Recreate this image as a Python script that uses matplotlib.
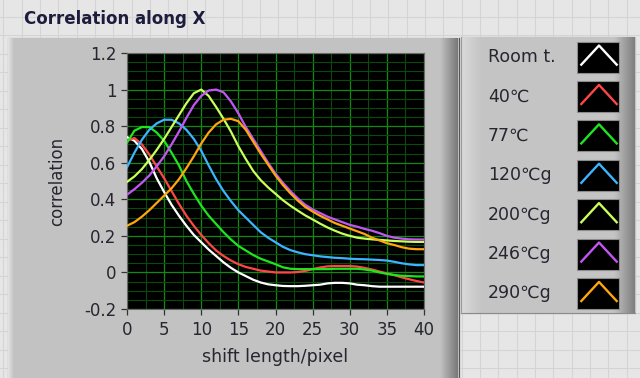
import numpy as np
import matplotlib
matplotlib.use("Agg")
import matplotlib.pyplot as plt
from matplotlib.patches import Rectangle
from matplotlib.colors import LinearSegmentedColormap

W, H = 640, 378

# data (shift 0..40 pixels)
shift = np.arange(0, 41)
labels = ["Room t.", "40℃", "77℃", "120℃g", "200℃g", "246℃g", "290℃g"]
room = [0.74, 0.72, 0.675, 0.605, 0.515, 0.44, 0.37, 0.31, 0.255, 0.205,
        0.165, 0.125, 0.09, 0.055, 0.025, 0.0, -0.02, -0.04, -0.055, -0.065,
        -0.07, -0.074, -0.075, -0.075, -0.073, -0.07, -0.067, -0.06, -0.057, -0.057,
        -0.06, -0.067, -0.07, -0.075, -0.078, -0.078, -0.078, -0.078, -0.078, -0.078,
        -0.078]
c40 = [0.72, 0.735, 0.70, 0.645, 0.58, 0.515, 0.445, 0.375, 0.31, 0.255,
       0.205, 0.16, 0.12, 0.09, 0.065, 0.045, 0.03, 0.02, 0.01, 0.005,
       0.0, 0.0, 0.0, 0.002, 0.008, 0.018, 0.027, 0.033, 0.035, 0.035,
       0.035, 0.032, 0.025, 0.016, 0.005, -0.005, -0.015, -0.027, -0.037, -0.047,
       -0.055]
c77 = [0.71, 0.775, 0.795, 0.795, 0.765, 0.72, 0.655, 0.585, 0.50, 0.43,
       0.365, 0.31, 0.265, 0.22, 0.18, 0.145, 0.12, 0.095, 0.075, 0.06,
       0.045, 0.028, 0.02, 0.018, 0.018, 0.018, 0.018, 0.018, 0.02, 0.02,
       0.02, 0.02, 0.016, 0.01, 0.0, -0.008, -0.014, -0.018, -0.02, -0.022,
       -0.022]
c120 = [0.575, 0.655, 0.725, 0.78, 0.815, 0.835, 0.835, 0.815, 0.78, 0.73,
        0.665, 0.585, 0.51, 0.445, 0.39, 0.34, 0.30, 0.26, 0.22, 0.19,
        0.165, 0.14, 0.122, 0.11, 0.1, 0.094, 0.088, 0.084, 0.08, 0.078,
        0.075, 0.073, 0.072, 0.07, 0.068, 0.065, 0.058, 0.05, 0.044, 0.04,
        0.04]
c200 = [0.495, 0.525, 0.565, 0.615, 0.67, 0.73, 0.795, 0.86, 0.925, 0.98,
        1.0, 0.965, 0.905, 0.84, 0.77, 0.69, 0.62, 0.555, 0.505, 0.465,
        0.43, 0.395, 0.365, 0.338, 0.312, 0.29, 0.267, 0.246, 0.228, 0.212,
        0.2, 0.19, 0.185, 0.181, 0.178, 0.175, 0.172, 0.17, 0.168, 0.167,
        0.167]
c246 = [0.425, 0.455, 0.49, 0.53, 0.58, 0.635, 0.70, 0.77, 0.845, 0.915,
        0.965, 0.995, 1.0, 0.985, 0.935, 0.87, 0.795, 0.73, 0.665, 0.60,
        0.54, 0.49, 0.445, 0.405, 0.37, 0.345, 0.325, 0.305, 0.29, 0.275,
        0.26, 0.25, 0.238, 0.228, 0.215, 0.2, 0.19, 0.185, 0.181, 0.18,
        0.18]
c290 = [0.255, 0.275, 0.305, 0.34, 0.38, 0.42, 0.46, 0.51, 0.57, 0.635,
        0.705, 0.765, 0.81, 0.835, 0.84, 0.827, 0.78, 0.715, 0.65, 0.59,
        0.53, 0.478, 0.433, 0.393, 0.358, 0.333, 0.31, 0.29, 0.27, 0.255,
        0.24, 0.225, 0.21, 0.19, 0.175, 0.16, 0.15, 0.138, 0.13, 0.127,
        0.127]
series = [room, c40, c77, c120, c200, c246, c290]
colors = ["#ffffff", "#ff4646", "#1ee61e", "#3cb4ff", "#c8ff5a", "#c455f5", "#ffa510"]

xticks = np.arange(0, 41, 5)
yticks = np.round(np.arange(-0.2, 1.21, 0.2), 1)
ytick_labels = ["-0.2", "0", "0.2", "0.4", "0.6", "0.8", "1", "1.2"]

FONT = ["DejaVu Sans", "Noto Sans CJK JP"]
TXT = "#262630"

fig = plt.figure(figsize=(W / 100, H / 100), dpi=100)

# front panel background, in pixel coordinates
bg = fig.add_axes([0, 0, 1, 1])
bg.axis("off")
bg.add_patch(Rectangle((0, 0), W, H, color="#e6e6e6", zorder=0))
for gx in np.arange(3.4, W, 18.33):
    bg.plot([gx, gx], [0, H], color="#d4d4d4", lw=0.8, zorder=1)
for gy in np.arange(16.5, H, 18.5):
    bg.plot([0, W], [gy, gy], color="#d4d4d4", lw=0.8, zorder=1)


def hgrad(x0, x1, y0, y1, c0, c1):
    cm = LinearSegmentedColormap.from_list("g", [c0, c1])
    bg.imshow(np.linspace(0, 1, 64)[None, :], extent=(x0, x1, y1, y0),
              cmap=cm, aspect="auto", zorder=3, interpolation="bilinear")


# graph panel
bg.add_patch(Rectangle((8, 38), 451, H - 38, color="#c2c2c2", zorder=2))
hgrad(8, 14, 38, H, "#e4e4e4", "#c2c2c2")
hgrad(440, 458, 38, H, "#c2c2c2", "#787878")
bg.plot([458.5, 458.5], [38, H], color="#555555", lw=0.8, zorder=4)

# legend panel
bg.add_patch(Rectangle((461, 37), 174, 276, color="#c4c4c4", zorder=2))
hgrad(461, 482, 37, 313, "#dadada", "#c4c4c4")
hgrad(614, 635, 37, 313, "#c4c4c4", "#7e7e7e")
bg.plot([461, 635], [312.5, 312.5], color="#8a8a8a", lw=0.8, zorder=4)
bg.plot([461, 461], [37, 313], color="#9a9a9a", lw=0.8, zorder=4)

for i, (lab, col) in enumerate(zip(labels, colors)):
    cy = 57 + 39.4 * i
    bg.text(488, cy, lab, fontsize=12.5, family=FONT, color=TXT,
            ha="left", va="center", zorder=5)
    bg.add_patch(Rectangle((577, cy - 15.5), 42, 31, facecolor="black",
                           edgecolor="#8c8c8c", lw=0.8, zorder=5))
    bg.plot([580.5, 599, 617.5], [cy + 8.5, cy - 11.5, cy + 8.5],
            color=col, lw=1.7, zorder=6, solid_capstyle="butt")

# texts
bg.text(24, 19, "Correlation along X", fontsize=12, fontweight="bold",
        family=FONT, color="#1c1c3c", ha="left", va="center", zorder=5)
bg.text(57, 181, "correlation", fontsize=12, family=FONT, color=TXT,
        rotation=90, ha="center", va="center", zorder=5)
bg.text(275.5, 357, "shift length/pixel", fontsize=12.5, family=FONT,
        color=TXT, ha="center", va="center", zorder=5)

bg.set_xlim(0, W)
bg.set_ylim(H, 0)

# plot area
ax = fig.add_axes([127 / W, (H - 309) / H, 297 / W, 256 / H])
ax.set_facecolor("black")
for y_, c_ in zip(series, colors):
    ax.plot(shift, y_, color=c_, lw=1.6, zorder=3)
ax.set_xlim(0, 40)
ax.set_ylim(-0.2, 1.2)
ax.set_xticks(xticks)
ax.set_yticks(yticks)
ax.set_yticklabels(ytick_labels)
ax.set_xticks(np.arange(2.5, 40, 5), minor=True)
ax.set_yticks(np.arange(-0.15, 1.2, 0.05), minor=True)
ax.grid(which="minor", color="#0a4a0a", lw=0.8, zorder=1)
ax.grid(which="major", color="#108a10", lw=0.9, zorder=2)
ax.set_axisbelow(True)
ax.tick_params(which="minor", length=0)
ax.tick_params(which="major", direction="out", length=4.5, width=0.9,
               color="#333333", labelsize=12, labelcolor=TXT)
ax.tick_params(axis="x", pad=4)
ax.tick_params(axis="y", pad=3)
for lbl in ax.get_xticklabels() + ax.get_yticklabels():
    lbl.set_family(FONT)
for sp in ax.spines.values():
    sp.set_color("#6a6a6a")
    sp.set_linewidth(0.8)

fig.savefig("out.png", dpi=100)
